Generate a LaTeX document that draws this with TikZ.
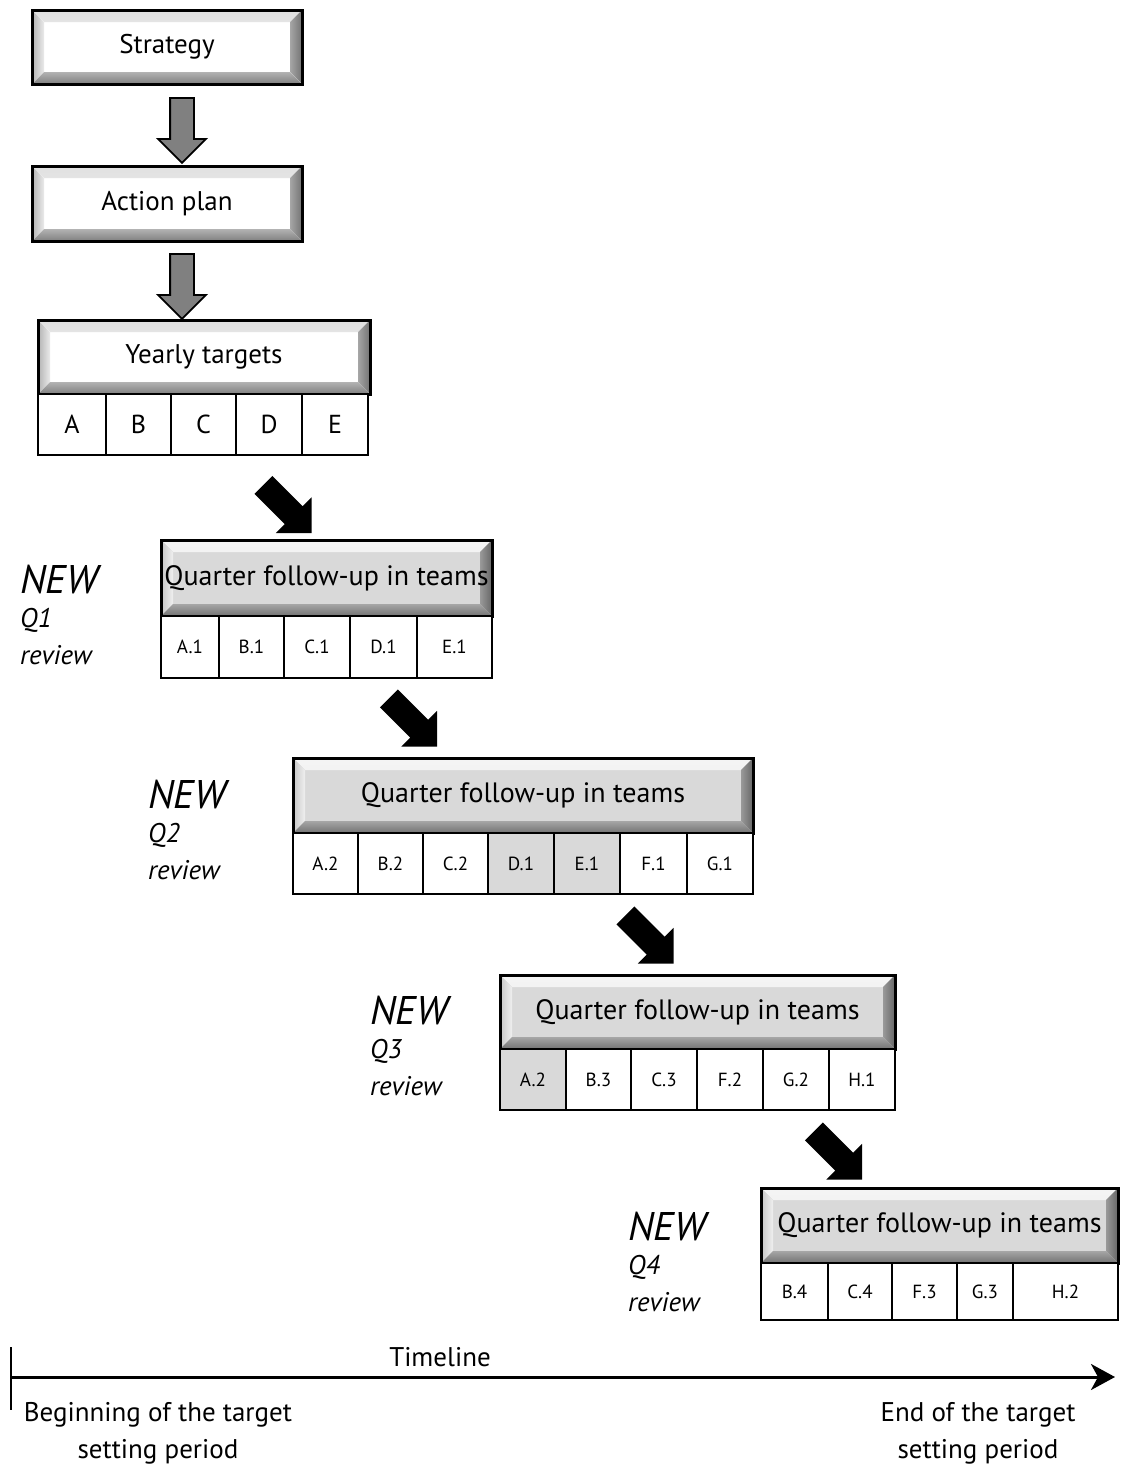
\documentclass[tikz,border=0pt]{standalone}
\usepackage{fontspec}
\setmainfont{PT Sans}
\usetikzlibrary{shapes.arrows,arrows.meta,calc}

\definecolor{qface}{HTML}{D9D9D9}
\definecolor{arrowgray}{HTML}{808080}

\tikzset{
  % raised box: face, top, left, bottom, right
  bevel/.style n args={5}{draw, line width=3pt, fill=#1, inner sep=0pt,
    font=\fontsize{27}{30}\selectfont,
    path picture={
      \fill[#2] (path picture bounding box.north west) -- (path picture bounding box.north east)
        -- ++(-12,12) -- ($(path picture bounding box.north west)+(12,12)$) -- cycle;
      \fill[#3] (path picture bounding box.north west) -- ($(path picture bounding box.north west)+(12,12)$)
        -- ($(path picture bounding box.south west)+(12,-12)$) -- (path picture bounding box.south west) -- cycle;
      \fill[#4] (path picture bounding box.south west) -- (path picture bounding box.south east)
        -- ++(-12,-12) -- ($(path picture bounding box.south west)+(12,-12)$) -- cycle;
      \fill[#5] (path picture bounding box.north east) -- (path picture bounding box.south east)
        -- ++(-12,-12) -- ($(path picture bounding box.north east)+(-12,12)$) -- cycle;
    }},
  topbox/.style={bevel={white}{top color=black!12, bottom color=black!3}
    {left color=black!30, right color=black!8}{top color=black!30, bottom color=black!50}
    {left color=black!35, right color=black!55}},
  quarterbox/.style={bevel={qface}{top color=black!4, bottom color=black!10}
    {left color=black!22, right color=black!6}{top color=black!35, bottom color=black!55}
    {left color=black!40, right color=black!60},
    font=\fontsize{28}{30}\selectfont},
  cell/.style={draw, line width=1.2pt, inner sep=0pt, font=\fontsize{19}{22}\selectfont},
  downarrow/.style={single arrow, draw, line width=1.8pt, fill=arrowgray, rotate=-90,
    minimum height=65, inner xsep=0pt, inner ysep=11, single arrow head extend=12,
    single arrow tip angle=90},
  diagarrow/.style={single arrow, fill=black, rotate=-45,
    minimum height=68, inner xsep=0pt, inner ysep=12.5, single arrow head extend=12.5,
    single arrow tip angle=90},
  newtag/.style={anchor=base west, inner sep=0pt, font=\fontsize{40}{40}\selectfont\itshape},
  qtag/.style={anchor=base west, inner sep=0pt, font=\fontsize{27}{30}\selectfont\itshape},
  timefont/.style={font=\fontsize{27}{37}\selectfont, align=center}
}

\begin{document}
\begin{tikzpicture}[x=1pt, y=-1pt]
  \useasboundingbox (0,0) rectangle (1125,1470);

  % top of the chain
  \node[topbox, minimum width=270, minimum height=74] (strategy) at (167,47) {Strategy};
  \node[downarrow] (down1) at (182,124.5) {};
  \node[topbox, minimum width=270, minimum height=75] (action) at (167,203.5) {Action plan};
  \node[downarrow] (down2) at (182,280.5) {};
  \node[topbox, minimum width=332, minimum height=74] (yearly) at (204,357) {Yearly targets};
  \foreach \l/\r/\t [count=\i] in {38/106/A,106/171/B,171/236/C,236/302/D,302/368/E}
    \node[cell, fill=white, minimum width={\r-\l}, minimum height=61,
      font=\fontsize{26}{30}\selectfont] (yc\i) at ({(\l+\r)/2},424.5) {\t};

  % quarters
  \node[diagarrow] (diag1) at (283,504.5) {};
  \node[quarterbox, minimum width=331, minimum height=76] (q1box) at (326.5,578) {Quarter follow-up in teams};
  \foreach \l/\r/\t/\c [count=\i] in {161/219/A.1/white,219/284/B.1/white,284/350/C.1/white,
      350/417/D.1/white,417/492/E.1/white}
    \node[cell, fill=\c, minimum width={\r-\l}, minimum height=62] (q1c\i) at ({(\l+\r)/2},647) {\t};

  \node[diagarrow] (diag2) at (408.5,718) {};
  \node[quarterbox, minimum width=460, minimum height=75] (q2box) at (523,795.5) {Quarter follow-up in teams};
  \foreach \l/\r/\t/\c [count=\i] in {293/358/A.2/white,358/423/B.2/white,423/488/C.2/white,
      488/554/D.1/qface,554/620/E.1/qface,620/687/F.1/white,687/753/G.1/white}
    \node[cell, fill=\c, minimum width={\r-\l}, minimum height=61] (q2c\i) at ({(\l+\r)/2},863.5) {\t};

  \node[diagarrow] (diag3) at (645,935) {};
  \node[quarterbox, minimum width=395, minimum height=74] (q3box) at (697.5,1012) {Quarter follow-up in teams};
  \foreach \l/\r/\t/\c [count=\i] in {500/566/A.2/qface,566/631/B.3/white,631/697/C.3/white,
      697/763/F.2/white,763/829/G.2/white,829/895/H.1/white}
    \node[cell, fill=\c, minimum width={\r-\l}, minimum height=61] (q3c\i) at ({(\l+\r)/2},1079.5) {\t};

  \node[diagarrow] (diag4) at (833.5,1151) {};
  \node[quarterbox, minimum width=357, minimum height=75] (q4box) at (939.5,1225.5) {Quarter follow-up in teams};
  \foreach \l/\r/\t/\c [count=\i] in {761/828/B.4/white,828/892/C.4/white,892/957/F.3/white,
      957/1013/G.3/white,1013/1118/H.2/white}
    \node[cell, fill=\c, minimum width={\r-\l}, minimum height=57] (q4c\i) at ({(\l+\r)/2},1291.5) {\t};

  % review tags
  \foreach \n/\x/\y in {1/20/593,2/148/808,3/370/1024,4/628/1240} {
    \node[newtag] (new\n) at (\x,\y) {NEW};
    \node[qtag] (qlbl\n) at (\x,\y+34) {Q\n};
    \node[qtag] (rev\n) at (\x,\y+71) {review};
  }

  % timeline
  \coordinate (tstart) at (11,1377);
  \coordinate (tend) at (1115,1377);
  \coordinate (ticktop) at (11,1347);
  \coordinate (tickbot) at (11,1410);
  \draw[line width=1.8pt] (ticktop) -- (tickbot);
  \draw[line width=3pt, -{Stealth[length=24pt, width=26pt, inset=7pt]}] (tstart) -- (tend);
  \node[timefont] (timelbl) at (440,1357) {Timeline};
  \node[timefont] (beginlbl) at (158,1433) {Beginning of the target\\setting period};
  \node[timefont] (endlbl) at (978,1433) {End of the target\\setting period};
\end{tikzpicture}
\end{document}
